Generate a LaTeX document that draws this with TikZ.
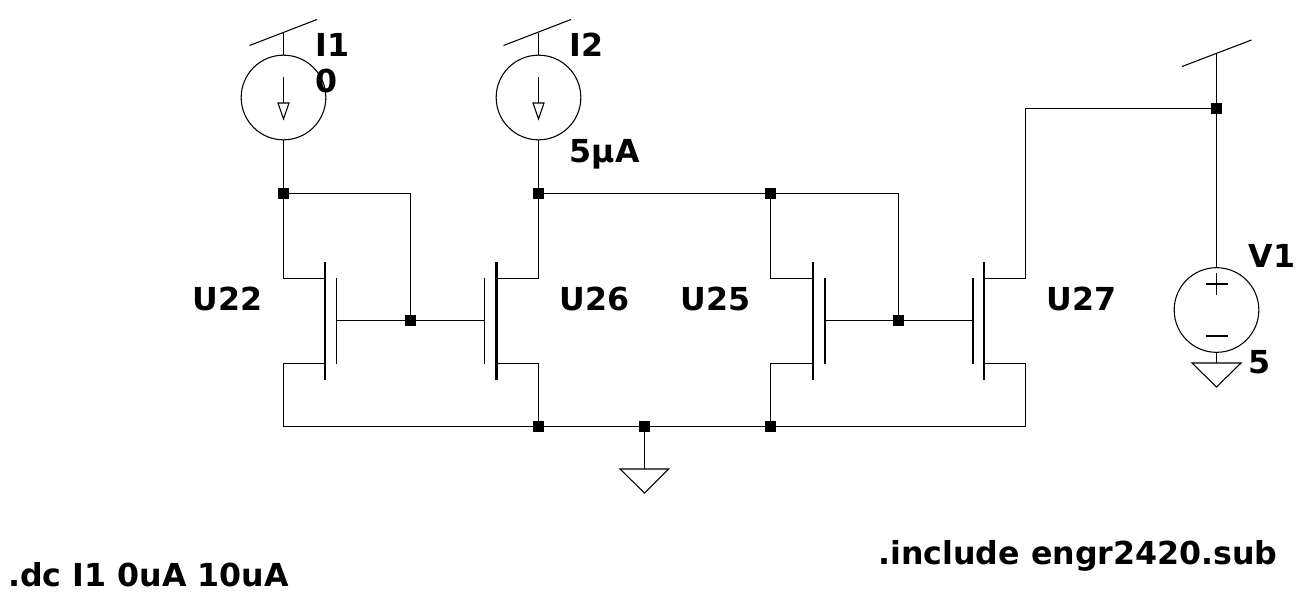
\documentclass[tikz,border=0pt]{standalone}
\usepackage{fontspec}
\setmainfont{DejaVu Sans}
\usetikzlibrary{positioning}
\tikzset{
	wire/.style={line width=1.2pt},
	thinwire/.style={line width=0.8pt},
	channel/.style={line width=2pt},
	junction/.style={rectangle,fill=black,inner sep=0pt,minimum size=8.25pt},
	source/.style={circle,draw,line width=0.8pt,inner sep=0pt,minimum size=63.5pt},
	lbl/.style={anchor=base west,inner sep=0pt,font=\fontsize{23.75pt}{28pt}\selectfont\bfseries}
}

\begin{document}
\begin{tikzpicture}[x=0.75pt,y=-0.75pt]
	\useasboundingbox (0,0) rectangle (1302,604);
	
	% draw sources
	\node[source] (i1) at (283.5,97.5) {};
	\node[source] (i2) at (538.5,97.5) {};
	\node[source] (v1) at (1216.5,310) {};
	
	% draw junctions
	\foreach \name/\x/\y in {j1/283.5/193.5,j2/538.5/193.5,j3/770.5/193.5,g1/410.5/320.5,g2/898.5/320.5,
		s1/538.5/426.5,s2/644.5/426.5,s3/770.5/426.5,vdd/1216.5/108.5}
	\node[junction] (\name) at (\x,\y) {};
	
	% draw transistors
	\foreach \name/\chan/\plate/\out in {a/325/336.5/283.5,b/496.5/484.5/538.5,c/813/825/770.5,d/984/973/1025.5}
	{
		\draw[channel] (\chan,262) -- (\chan,380);
		\draw[wire] (\plate,278) -- (\plate,364);
		\coordinate (\name gate) at (\plate,320.5);
		\coordinate (\name d) at (\chan,278.5);
		\coordinate (\name s) at (\chan,363.5);
		\coordinate (\name dout) at (\out,278.5);
		\coordinate (\name sout) at (\out,363.5);
	}
	
	% draw rails
	\coordinate (rail1) at (283.5,33);
	\coordinate (rail2) at (538.5,33);
	\coordinate (rail3) at (1216.5,53);
	\draw[thinwire] (249.5,45.5) -- (317,19.5);
	\draw[thinwire] (503.5,45.5) -- (571,19.5);
	\draw[thinwire] (1182,66.5) -- (1251.5,40);
	\draw[wire] (rail1) -- (i1.north);
	\draw[wire] (rail2) -- (i2.north);
	\draw[wire] (rail3) -- (vdd);
	\draw[wire] (vdd) -- (v1.north);
	
	% draw wires at the top
	\draw[wire] (i1.south) -- (j1);
	\draw[wire] (i2.south) -- (j2);
	\draw[wire] (j1) -- (adout) -- (ad);
	\draw[wire] (j2) -- (bdout) -- (bd);
	\draw[wire] (j3) -- (cdout) -- (cd);
	\draw[wire] (j1) -| (g1);
	\draw[wire] (j2) -- (j3);
	\draw[wire] (j3) -| (g2);
	\draw[wire] (vdd) -| (ddout) -- (dd);
	
	% draw gate wires
	\draw[wire] (agate) -- (g1);
	\draw[wire] (g1) -- (bgate);
	\draw[wire] (cgate) -- (g2);
	\draw[wire] (g2) -- (dgate);
	
	% draw wires at the bottom
	\draw[wire] (as) -- (asout) |- (s1);
	\draw[wire] (bs) -- (bsout) -- (s1);
	\draw[wire] (cs) -- (csout) -- (s3);
	\draw[wire] (ds) -- (dsout) |- (s3);
	\draw[wire] (s1) -- (s2);
	\draw[wire] (s2) -- (s3);
	
	% draw grounds
	\coordinate (gnd1) at (644.5,469);
	\coordinate (gnd2) at (1216.5,363);
	\draw[wire] (s2) -- (gnd1);
	\draw[wire] (v1.south) -- (gnd2);
	\draw[thinwire] (620,469) -- (668.5,469) -- (644.5,493) -- cycle;
	\draw[thinwire] (1192,363) -- (1241,363) -- (1216.5,387) -- cycle;
	
	% draw source symbols
	\foreach \x in {283.5,538.5}
	{
		\draw[thinwire] (\x,77) -- (\x,103);
		\draw[thinwire] (\x-5.5,103) -- (\x+5.5,103) -- (\x,119) -- cycle;
	}
	\draw[thinwire] (1206,284) -- (1228,284);
	\draw[thinwire] (1216.5,273) -- (1216.5,295);
	\draw[thinwire] (1206,336) -- (1228,336);
	
	% draw labels
	\node[lbl] (l1) at (315.5,56.5) {I1};
	\node[lbl] (l2) at (315,92) {0};
	\node[lbl] (l3) at (569.5,56.5) {I2};
	\node[lbl] (l4) at (569.5,162) {5µA};
	\node[lbl] (l5) at (192.5,310) {U22};
	\node[lbl] (l6) at (559.5,310) {U26};
	\node[lbl] (l7) at (680.5,310) {U25};
	\node[lbl] (l8) at (1046.5,310) {U27};
	\node[lbl] (l9) at (1248.5,267) {V1};
	\node[lbl] (l10) at (1248.5,373) {5};
	\node[lbl] (l11) at (878,564.5) {.include engr2420.sub};
	\node[lbl] (l12) at (8,586) {.dc I1 0uA 10uA};
\end{tikzpicture}
\end{document}
